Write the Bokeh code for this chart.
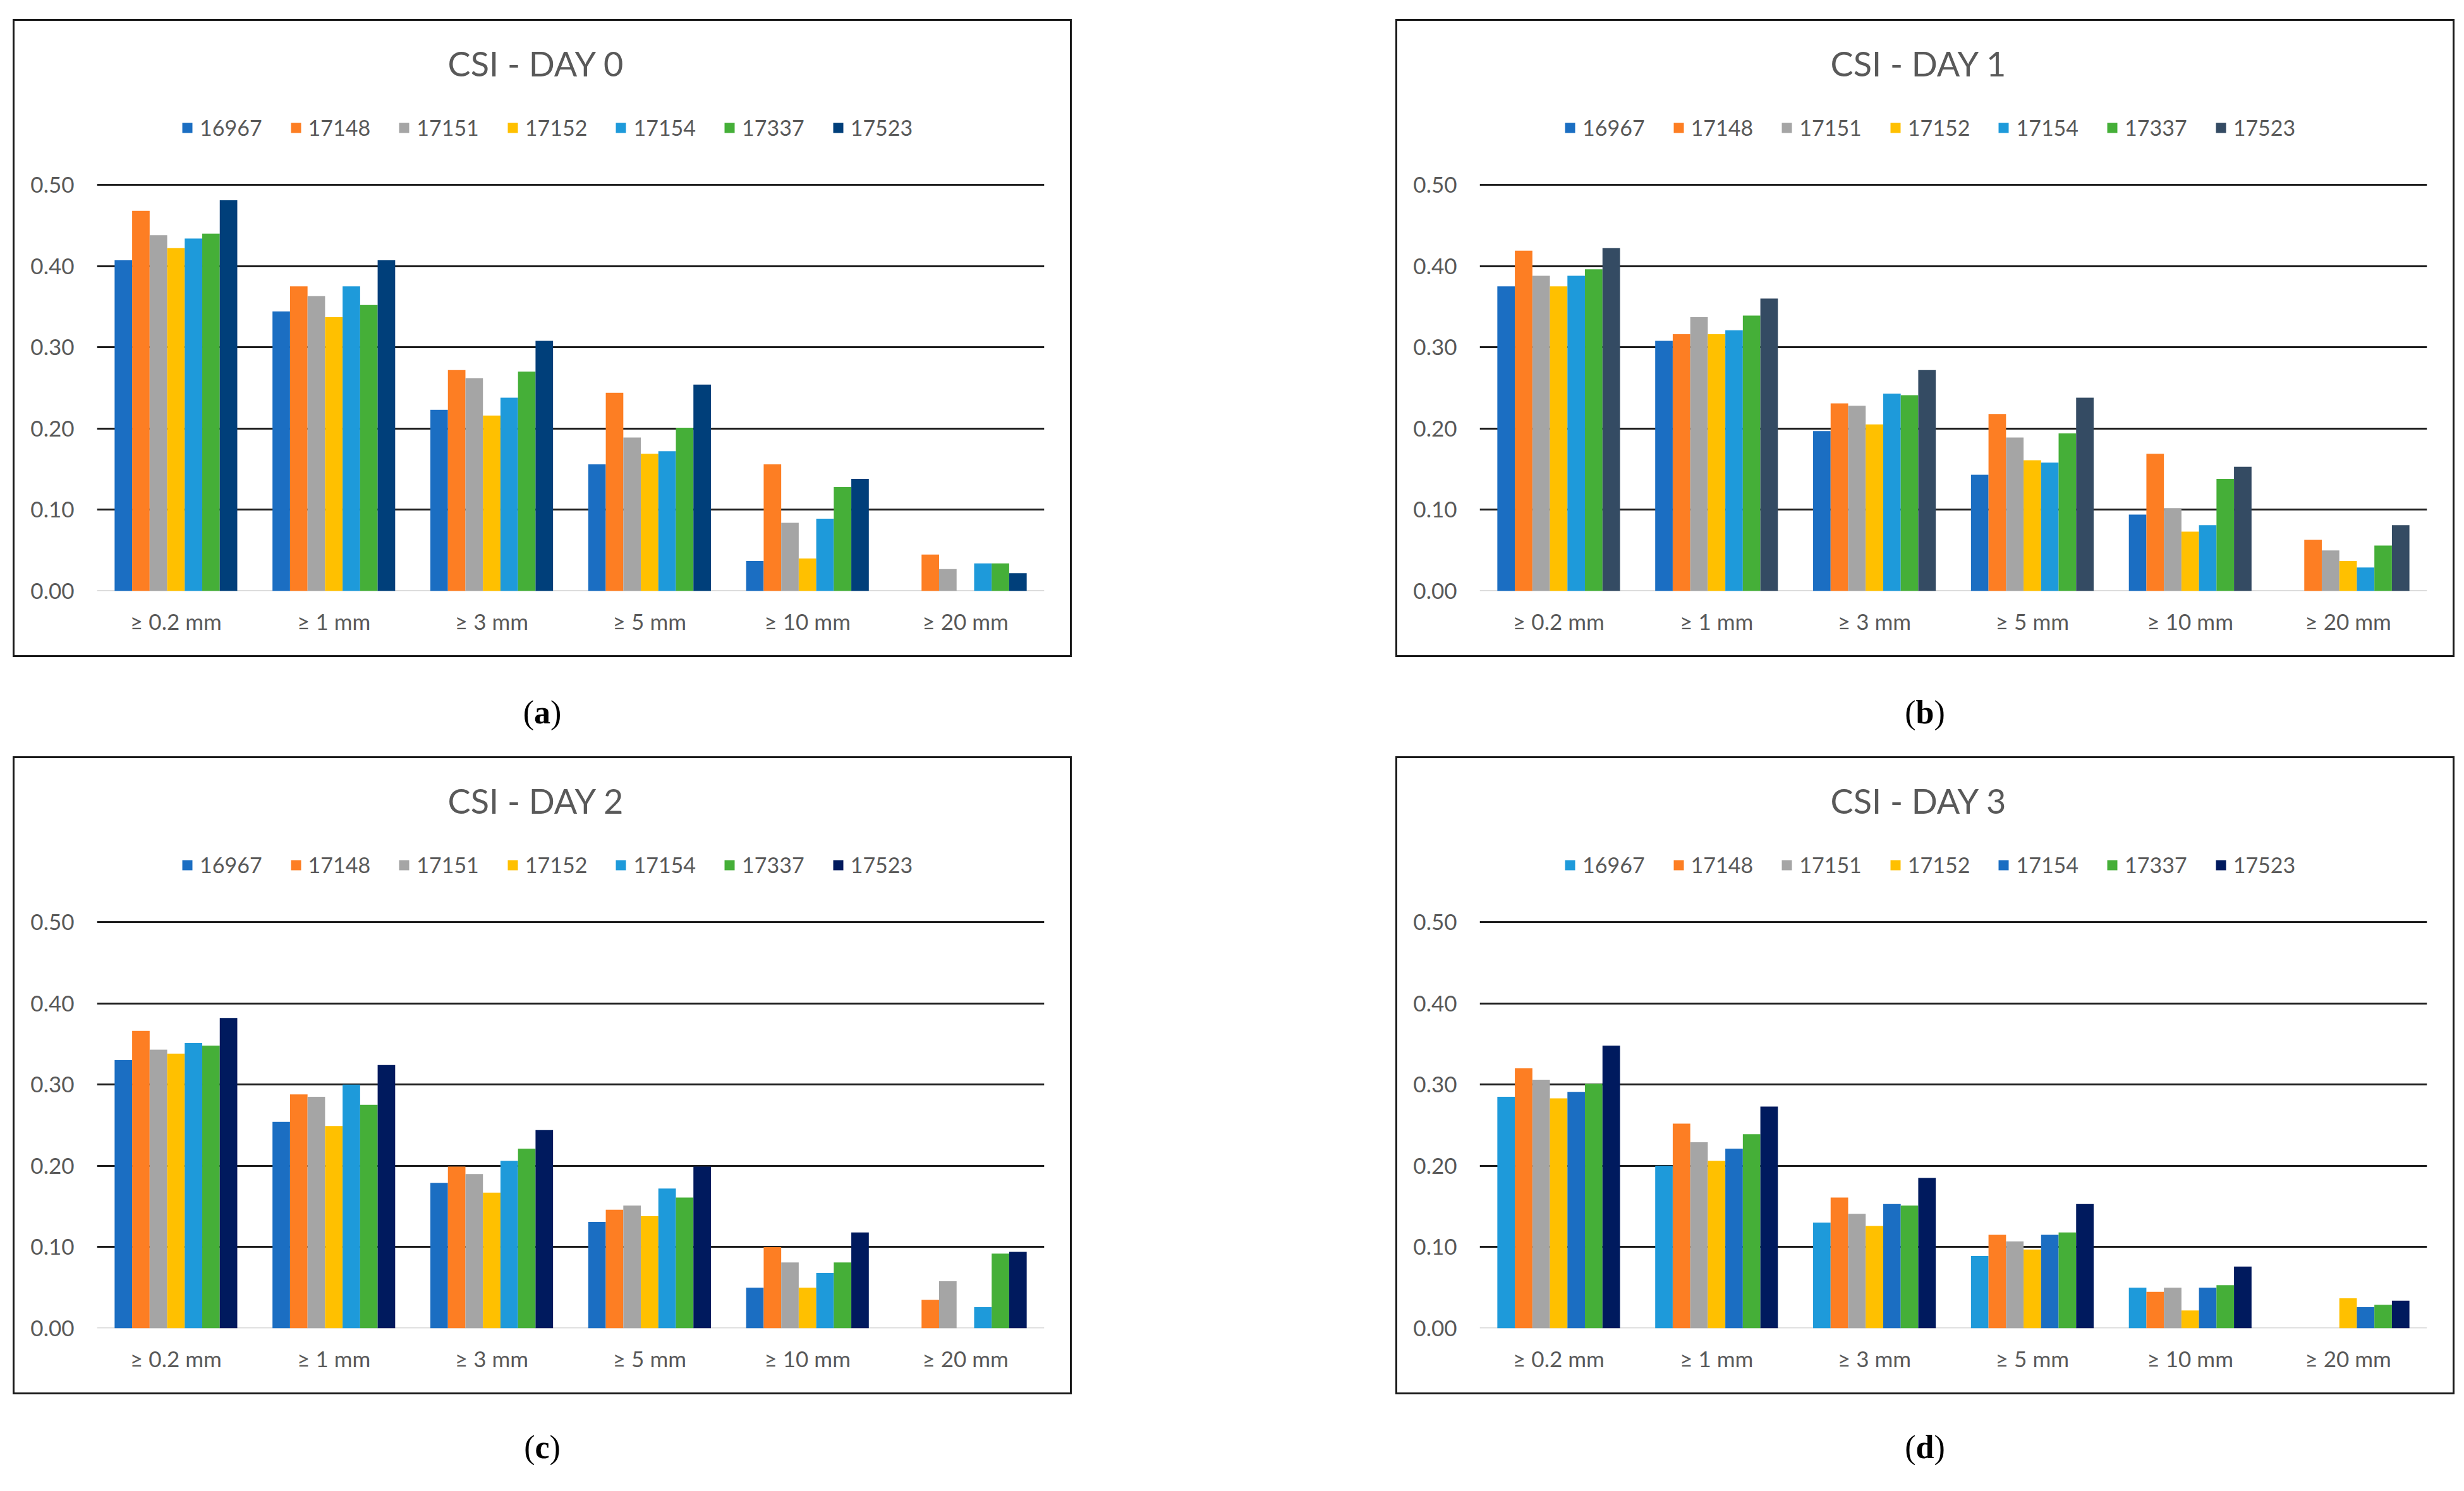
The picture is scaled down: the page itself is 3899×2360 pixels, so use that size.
from bokeh.plotting import figure
from bokeh.models import ColumnDataSource, FixedTicker, Span, Label, Legend, Range1d, Div, Spacer, NumeralTickFormatter
from bokeh.layouts import row, column
from bokeh.transform import dodge
from bokeh.embed import file_html
from bokeh.resources import INLINE

categories = ["≥ 0.2 mm", "≥ 1 mm", "≥ 3 mm", "≥ 5 mm", "≥ 10 mm", "≥ 20 mm"]
stations = ["16967", "17148", "17151", "17152", "17154", "17337", "17523"]

day0 = {
    "16967": [0.407, 0.344, 0.223, 0.156, 0.037, 0.0],
    "17148": [0.468, 0.375, 0.272, 0.244, 0.156, 0.045],
    "17151": [0.438, 0.363, 0.262, 0.189, 0.084, 0.027],
    "17152": [0.422, 0.337, 0.216, 0.169, 0.040, 0.0],
    "17154": [0.434, 0.375, 0.238, 0.172, 0.089, 0.034],
    "17337": [0.440, 0.352, 0.270, 0.201, 0.128, 0.034],
    "17523": [0.481, 0.407, 0.308, 0.254, 0.138, 0.022],
}
day1 = {
    "16967": [0.375, 0.308, 0.197, 0.143, 0.094, 0.0],
    "17148": [0.419, 0.316, 0.231, 0.218, 0.169, 0.063],
    "17151": [0.388, 0.337, 0.228, 0.189, 0.102, 0.050],
    "17152": [0.375, 0.316, 0.205, 0.161, 0.073, 0.037],
    "17154": [0.388, 0.321, 0.243, 0.158, 0.081, 0.029],
    "17337": [0.396, 0.339, 0.241, 0.194, 0.138, 0.056],
    "17523": [0.422, 0.360, 0.272, 0.238, 0.153, 0.081],
}
day2 = {
    "16967": [0.330, 0.254, 0.179, 0.131, 0.050, 0.0],
    "17148": [0.366, 0.288, 0.199, 0.146, 0.100, 0.035],
    "17151": [0.343, 0.285, 0.190, 0.151, 0.081, 0.058],
    "17152": [0.338, 0.249, 0.167, 0.138, 0.050, 0.0],
    "17154": [0.351, 0.300, 0.206, 0.172, 0.068, 0.026],
    "17337": [0.348, 0.275, 0.221, 0.161, 0.081, 0.092],
    "17523": [0.382, 0.324, 0.244, 0.199, 0.118, 0.094],
}
day3 = {
    "16967": [0.285, 0.200, 0.130, 0.089, 0.050, 0.0],
    "17148": [0.320, 0.252, 0.161, 0.115, 0.045, 0.0],
    "17151": [0.306, 0.229, 0.141, 0.107, 0.050, 0.0],
    "17152": [0.283, 0.206, 0.126, 0.097, 0.022, 0.037],
    "17154": [0.291, 0.221, 0.153, 0.115, 0.050, 0.026],
    "17337": [0.301, 0.239, 0.151, 0.118, 0.053, 0.029],
    "17523": [0.348, 0.273, 0.185, 0.153, 0.076, 0.034],
}

colors0 = ["#1B6EC2", "#FD7E23", "#A5A5A5", "#FFC000", "#1E9ADA", "#45AF38", "#003F7A"]
colors1 = ["#1B6EC2", "#FD7E23", "#A5A5A5", "#FFC000", "#1E9ADA", "#45AF38", "#344B63"]
colors2 = ["#1B6EC2", "#FD7E23", "#A5A5A5", "#FFC000", "#1E9ADA", "#45AF38", "#001A5E"]
colors3 = ["#1E9ADA", "#FD7E23", "#A5A5A5", "#FFC000", "#1B6EC2", "#45AF38", "#001A5E"]

titles = ["CSI - DAY 0", "CSI - DAY 1", "CSI - DAY 2", "CSI - DAY 3"]
y_ticks = [0.0, 0.1, 0.2, 0.3, 0.4, 0.5]

FONT = "Lato"
TXT = "#595959"
B = 3                      # border thickness
PW, PH = 1676 - 2 * B, 1010 - 2 * B
ML, MR, MB = 133 - B, 44 - B, 105 - B
FW, FH = PW - ML - MR, PH - MB
TOP05 = 262 - B            # px from frame top to the 0.50 line
BAR_W = 0.111


def make_panel(data, colors, title):
    src = ColumnDataSource(dict(cat=categories, **data))
    p = figure(width=PW, height=PH, x_range=categories,
               y_range=Range1d(0, 0.5 * FH / (FH - TOP05)),
               output_backend="svg", toolbar_location=None,
               min_border_left=ML, min_border_right=MR, min_border_top=0,
               min_border_bottom=MB, outline_line_color=None,
               background_fill_color="white", border_fill_color="white")
    p.xgrid.grid_line_color = None
    p.ygrid.ticker = FixedTicker(ticks=y_ticks[1:])
    p.ygrid.grid_line_color = "#1e1e1e"
    p.ygrid.grid_line_width = 3
    p.add_layout(Span(location=0, dimension="width", line_color="#D9D9D9",
                      line_width=3, level="underlay"))

    p.yaxis.ticker = FixedTicker(ticks=y_ticks)
    p.yaxis.formatter = NumeralTickFormatter(format="0.00")
    for ax in (p.xaxis, p.yaxis):
        ax.axis_line_color = None
        ax.major_tick_line_color = None
        ax.minor_tick_line_color = None
        ax.major_label_text_font = FONT
        ax.major_label_text_font_size = "35px"
        ax.major_label_text_color = TXT
    p.yaxis.major_label_standoff = 30
    p.xaxis.major_label_standoff = 20

    items = []
    for i, s in enumerate(stations):
        r = p.vbar(x=dodge("cat", (i - 3) * BAR_W, range=p.x_range), top=s,
                   width=BAR_W, source=src, fill_color=colors[i],
                   line_color=None)
        items.append((s, [r]))
    leg = Legend(items=items, orientation="horizontal",
                 location=(133, FH - 189),
                 glyph_width=20, glyph_height=20, label_standoff=10,
                 spacing=43, padding=0, margin=0, border_line_color=None,
                 background_fill_alpha=0, label_text_font=FONT,
                 label_text_font_size="34px", label_text_color=TXT)
    p.add_layout(leg, "center")
    p.add_layout(Label(x=695, y=FH - 67, x_units="screen", y_units="screen",
                       text=title, text_align="center", text_baseline="middle",
                       text_font=FONT, text_font_size="54px", text_color=TXT))
    return column(p, styles={"border": f"{B}px solid #1a1a1a"})


def sub_label(letter, h, pad):
    return Div(text=(f'<div style="width:1676px;text-align:center;'
                     f'font-family:\'Liberation Serif\',serif;font-size:52px;'
                     f'color:#000;padding-top:{pad}px">(<b>{letter}</b>)</div>'),
               width=1676, height=h, margin=0)


pa = make_panel(day0, colors0, titles[0])
pb = make_panel(day1, colors1, titles[1])
pc = make_panel(day2, colors2, titles[2])
pd = make_panel(day3, colors3, titles[3])

GAP = 512
LEFT = 20
layout = column(
    Spacer(width=10, height=30),
    row(Spacer(width=LEFT, height=1010), pa, Spacer(width=GAP, height=1010), pb),
    row(Spacer(width=LEFT, height=157), sub_label("a", 157, 51),
        Spacer(width=GAP, height=157), sub_label("b", 157, 51)),
    row(Spacer(width=LEFT, height=1013), pc, Spacer(width=GAP, height=1013), pd),
    row(Spacer(width=LEFT, height=140), sub_label("c", 140, 44),
        Spacer(width=GAP, height=140), sub_label("d", 140, 44)),
)

open("out.html", "w").write(file_html(layout, INLINE))
